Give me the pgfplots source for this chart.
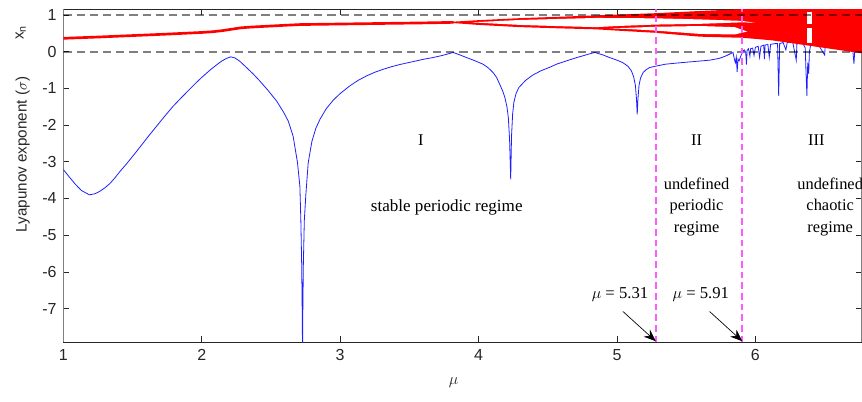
\documentclass[border=0pt]{standalone}
\usepackage{fontspec}
\setmainfont{Liberation Sans}
\newfontfamily\tnr{Liberation Serif}
\usepackage{pgfplots}
\pgfplotsset{compat=1.18}
\usetikzlibrary{arrows.meta}
\definecolor{axgray}{RGB}{38,38,38}
\definecolor{myblue}{RGB}{30,30,255}
\definecolor{mymag}{RGB}{255,90,255}
\begin{document}
\begin{tikzpicture}
\begin{axis}[
  scale only axis, width=599pt, height=249.75pt,
  xmin=1, xmax=6.77, ymin=-7.92, ymax=1.155,
  xtick={1,2,3,4,5,6}, xticklabels={1,2,3,4,5,6},
  ytick={-7,-6,-5,-4,-3,-2,-1,0,1}, yticklabels={-7,-6,-5,-4,-3,-2,-1,0,1},
  tick align=inside, major tick length=4.5pt,
  tick style={axgray, line width=0.5pt},
  ticklabel style={font=\fontsize{12}{14}\selectfont, text=axgray},
  yticklabel style={xshift=-1.5pt},
  xticklabel style={yshift=-1.5pt},
  separate axis lines,
  x axis line style={axgray, line width=0.5pt},
  y axis line style={gray, line width=1.1pt},
  clip mode=individual,
]
% Lyapunov exponent
\addplot[myblue, line width=0.6pt] coordinates {
(1.00,-3.21)(1.04,-3.40)(1.084,-3.60)(1.13,-3.78)(1.188,-3.90)(1.23,-3.87)(1.265,-3.80)(1.30,-3.71)(1.337,-3.59)(1.37,-3.45)(1.41,-3.26)(1.46,-3.04)(1.518,-2.77)(1.57,-2.52)(1.626,-2.25)(1.68,-2.00)(1.734,-1.75)(1.79,-1.50)(1.843,-1.29)(1.90,-1.07)(1.95,-0.88)(2.00,-0.70)(2.06,-0.50)(2.10,-0.38)(2.146,-0.25)(2.18,-0.18)(2.21,-0.14)(2.24,-0.17)(2.275,-0.26)(2.32,-0.42)(2.37,-0.60)(2.42,-0.80)(2.48,-1.06)(2.54,-1.34)(2.59,-1.64)(2.625,-1.89)(2.66,-2.30)(2.692,-3.03)(2.709,-3.67)(2.716,-4.6)(2.722,-5.8)(2.727,-7.5)(2.728,-9)(2.729,-7.5)(2.734,-5.8)(2.741,-4.6)(2.752,-3.9)(2.769,-3.03)(2.796,-2.44)(2.825,-2.08)(2.853,-1.85)(2.90,-1.55)(2.95,-1.32)(3.00,-1.14)(3.07,-0.93)(3.13,-0.78)(3.19,-0.66)(3.25,-0.56)(3.31,-0.48)(3.37,-0.41)(3.43,-0.35)(3.49,-0.30)(3.55,-0.25)(3.61,-0.20)(3.67,-0.16)(3.74,-0.10)(3.816,-0.02)(3.86,-0.08)(3.913,-0.16)(3.97,-0.24)(4.032,-0.34)(4.07,-0.44)(4.105,-0.57)(4.13,-0.70)(4.153,-0.89)(4.175,-1.08)(4.19,-1.25)(4.205,-1.50)(4.215,-1.80)(4.224,-2.4)(4.232,-3.48)(4.238,-2.3)(4.246,-1.70)(4.255,-1.38)(4.27,-1.15)(4.29,-0.98)(4.34,-0.78)(4.39,-0.64)(4.45,-0.52)(4.51,-0.43)(4.57,-0.33)(4.635,-0.25)(4.70,-0.17)(4.755,-0.11)(4.80,-0.06)(4.84,-0.02)(4.90,-0.09)(4.947,-0.16)(5.00,-0.23)(5.043,-0.30)(5.08,-0.40)(5.104,-0.52)(5.12,-0.68)(5.133,-0.92)(5.141,-1.3)(5.146,-1.71)(5.151,-1.3)(5.159,-0.92)(5.17,-0.72)(5.188,-0.57)(5.21,-0.49)(5.236,-0.43)(5.285,-0.39)(5.35,-0.34)(5.43,-0.31)(5.55,-0.27)(5.67,-0.23)(5.74,-0.18)(5.79,-0.11)(5.838,-0.02)(5.848,-0.2)(5.855,-0.3)(5.862,-0.15)(5.868,-0.55)(5.874,-0.2)(5.882,-0.25)(5.90,-0.06)
(5.91,0.02)(5.92,0.05)(5.93,-0.02)(5.935,-0.35)(5.94,0.04)(5.95,0.08)(5.96,-0.12)(5.965,0.08)(5.98,0.10)(5.99,-0.10)(6.00,0.12)(6.02,0.15)(6.03,-0.15)(6.04,0.15)(6.06,0.18)(6.065,-0.2)(6.07,0.18)(6.09,0.2)(6.10,-0.15)(6.11,0.2)(6.14,0.22)(6.16,0.22)(6.168,-1.2)(6.175,0.22)(6.20,0.25)(6.22,0.05)(6.23,0.25)(6.27,0.25)(6.295,-0.23)(6.30,0.25)(6.34,0.25)(6.36,0.1)(6.365,-0.5)(6.372,-1.2)(6.378,-0.3)(6.385,-0.6)(6.39,0.0)(6.40,0.2)(6.45,0.22)(6.50,-0.09)(6.505,0.2)(6.55,0.2)(6.60,0.2)(6.65,0.2)(6.70,0.2)(6.712,-0.33)(6.72,0.2)(6.77,0.2)
};
% bifurcation diagram: single branch
\addplot[red, line width=2pt] coordinates {
(1.00,0.365)(1.25,0.40)(1.50,0.44)(1.75,0.48)(2.00,0.525)(2.08,0.545)(2.15,0.575)(2.22,0.615)(2.28,0.65)(2.35,0.67)(2.45,0.69)(2.60,0.72)(2.71,0.74)(3.00,0.755)(3.30,0.77)(3.60,0.785)(3.82,0.80)
};
% branches and chaotic band (outer envelope)
\addplot[fill=red, draw=none] coordinates {
(3.80,0.815)(4.0,0.86)(4.3,0.915)(4.6,0.955)(4.85,0.99)(5.28,1.05)(5.6,1.11)(5.9,1.16)(5.95,1.4)(6.80,1.4)(6.80,-0.06)(6.12,0.31)(6.0,0.35)(5.9,0.38)(5.6,0.41)(5.28,0.515)(5.0,0.575)(4.85,0.61)(4.6,0.635)(4.3,0.67)(4.0,0.73)(3.80,0.785)
} -- cycle;
% gap between upper and lower branches
\addplot[fill=white, draw=none] coordinates {
(3.95,0.80)(4.0,0.81)(4.3,0.865)(4.6,0.895)(4.85,0.92)(5.28,0.91)(5.6,0.88)(5.9,0.84)(6.0,0.79)(5.9,0.80)(5.6,0.76)(5.28,0.74)(5.0,0.70)(4.85,0.67)(4.6,0.695)(4.3,0.73)(4.0,0.79)
} -- cycle;
% gap between the two lower branches
\addplot[fill=white, draw=none] coordinates {
(4.95,0.636)(5.1,0.655)(5.28,0.68)(5.6,0.70)(5.85,0.67)(5.94,0.55)(5.85,0.47)(5.6,0.485)(5.28,0.575)(5.1,0.615)
} -- cycle;
% periodic window
\addplot[fill=white, draw=none] coordinates {(6.376,0.23)(6.408,0.23)(6.408,1.09)(6.376,1.09)} -- cycle;
\addplot[fill=red, draw=none] coordinates {(6.376,0.65)(6.408,0.65)(6.408,0.75)(6.376,0.75)} -- cycle;
% reference lines
\addplot[black, opacity=0.5, line width=1.2pt, dash pattern=on 6.2pt off 3.7pt] coordinates {(1,0)(6.77,0)};
\addplot[black, opacity=0.5, line width=1.2pt, dash pattern=on 6.2pt off 3.7pt] coordinates {(1,1)(6.77,1)};
\addplot[mymag, line width=1.5pt, dash pattern=on 5pt off 3pt] coordinates {(5.28,-7.92)(5.28,1.155)};
\addplot[mymag, line width=1.5pt, dash pattern=on 5pt off 3pt] coordinates {(5.905,-7.92)(5.905,1.155)};
% labels
\node[rotate=90, font=\fontsize{11.4}{13}\selectfont, text=axgray] at ([xshift=-30.5pt]axis cs:1,-2.80) {Lyapunov exponent ($\sigma$)};
\node[rotate=90, font=\fontsize{11.4}{13}\selectfont, text=axgray] at ([xshift=-32pt]axis cs:1,0.52) {x\textsubscript{n}};
\node[font=\fontsize{12.5}{13}\selectfont, text=axgray] at ([yshift=-30.5pt]axis cs:3.82,-7.92) {$\mu$};
% annotations
\node[font=\tnr\fontsize{12.3}{14}\selectfont] at (axis cs:3.583,-2.41) {I};
\node[font=\tnr\fontsize{12.8}{14}\selectfont] at (axis cs:3.77,-4.23) {stable periodic regime};
\node[font=\tnr\fontsize{12.3}{14}\selectfont] at (axis cs:5.575,-2.41) {II};
\node[font=\tnr\fontsize{12.3}{16.2}\selectfont, align=center] at (axis cs:5.575,-4.23) {undefined\\periodic\\regime};
\node[font=\tnr\fontsize{12.3}{14}\selectfont] at (axis cs:6.44,-2.41) {III};
\node[font=\tnr\fontsize{12.3}{16.2}\selectfont, align=center] at (axis cs:6.54,-4.23) {undefined\\chaotic\\regime};
\node[font=\tnr\fontsize{12.5}{14}\selectfont] at (axis cs:5.022,-6.63) {$\mu$ = 5.31};
\node[font=\tnr\fontsize{12.5}{14}\selectfont] at (axis cs:5.606,-6.63) {$\mu$ = 5.91};
\draw[black, line width=0.5pt, -{Stealth[length=9pt,width=7pt]}] (axis cs:5.043,-7.08) -- (axis cs:5.28,-7.89);
\draw[black, line width=0.5pt, -{Stealth[length=9pt,width=7pt]}] (axis cs:5.669,-7.08) -- (axis cs:5.905,-7.89);
\end{axis}
\pgfresetboundingbox
\path ([xshift=-47.5pt,yshift=-44pt]current axis.south west) rectangle ([yshift=7pt]current axis.north east);
\end{tikzpicture}
\end{document}
